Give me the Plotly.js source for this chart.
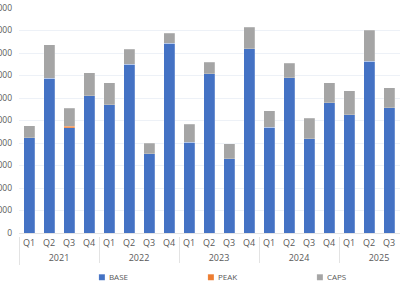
<!DOCTYPE html>
<html>
<head>
<meta charset="utf-8">
<script src="https://cdn.plot.ly/plotly-3.0.1.min.js"></script>
<style>
html,body{margin:0;padding:0;overflow:hidden;width:400px;height:283px;background:#fff;}
#chart{position:absolute;left:0;top:0;width:440px;height:283px;}
.legend .legendpoints path{transform:translate(33px,0) scale(0.5);}
g.xaxislayer-above{transform:translateY(3px);}
</style>
</head>
<body>
<div id="chart"></div>
<script>
const years = ['2021','2021','2021','2021','2022','2022','2022','2022','2023','2023','2023','2023','2024','2024','2024','2024','2025','2025','2025'];
const quarters = ['Q1','Q2','Q3','Q4','Q1','Q2','Q3','Q4','Q1','Q2','Q3','Q4','Q1','Q2','Q3','Q4','Q1','Q2','Q3'];
const base = [4240, 6880, 4680, 6100, 5690, 7510, 3520, 8440, 4040, 7080, 3290, 8180, 4700, 6890, 4180, 5790, 5260, 7630, 5560];
const peak = [0, 0, 70, 0, 0, 0, 0, 0, 0, 0, 0, 0, 0, 0, 0, 0, 0, 0, 0];
const caps = [530, 1480, 790, 1020, 990, 650, 470, 430, 800, 510, 680, 960, 740, 650, 920, 890, 1060, 1390, 900];
// trailing empty slot of the 2025 group that the reference axis runs into (label off-screen)
const padYear = ['2025'];
const padQuarter = [' '];

const txt = '#595959';
const mk = (name, y, color) => ({
  type: 'bar', name: name, x: [years, quarters], y: y,
  marker: {color: color, line: {color: 'rgba(255,255,255,0.35)', width: 0.6}},
  hoverinfo: 'skip'
});
const traces = [
  mk('BASE', base, '#4472C4'),
  mk('PEAK', peak, '#ED7D31'),
  mk('CAPS', caps, '#A5A5A5'),
  {type: 'bar', x: [padYear, padQuarter], y: [null], showlegend: false, hoverinfo: 'skip', marker: {color: 'rgba(0,0,0,0)'}}
];
const layout = {
  width: 440, height: 283,
  margin: {l: 19, r: 21, t: 8, b: 50},
  barmode: 'stack', bargap: 0.45,
  paper_bgcolor: '#fff', plot_bgcolor: '#fff',
  font: {family: 'Open Sans, sans-serif', size: 8, color: txt},
  showlegend: true,
  legend: {orientation: 'h', traceorder: 'normal', x: 0.5335, xanchor: 'center', xref: 'paper',
    y: 0.02, yanchor: 'middle', yref: 'container',
    entrywidth: 64, entrywidthmode: 'pixels', itemwidth: 30, tracegroupgap: 0,
    font: {size: 8, color: txt}},
  xaxis: {type: 'multicategory', showdividers: true, dividercolor: '#E3E3E3', dividerwidth: 1,
    showgrid: false, zeroline: false, showline: false, ticks: '',
    tickangle: 0, automargin: false, tickfont: {size: 9, color: txt}},
  yaxis: {range: [0, 10000], dtick: 1000, tickformat: 'd', showgrid: true, gridcolor: '#EDF1F7', gridwidth: 1,
    zeroline: true, zerolinecolor: '#E3E3E3', zerolinewidth: 1, showline: false, ticks: '', automargin: false,
    ticklabelstandoff: 6, tickfont: {size: 8.5, color: txt}}
};
Plotly.newPlot('chart', traces, layout, {displayModeBar: false, staticPlot: true});
</script>
</body>
</html>
